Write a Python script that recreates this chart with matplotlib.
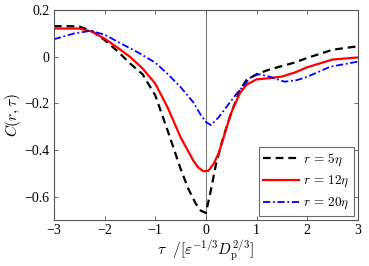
import numpy as np
import matplotlib
matplotlib.use("Agg")
import matplotlib.pyplot as plt

plt.rcParams["font.family"] = ["Liberation Serif", "DejaVu Serif"]
plt.rcParams["mathtext.fontset"] = "cm"

# r = 5 eta (black dashed)
tau_5 = [-3, -2.75, -2.5, -2.25, -2, -1.75, -1.5, -1.25, -1, -0.75, -0.5, -0.35,
         -0.2, -0.1, 0, 0.1, 0.2, 0.35, 0.5, 0.67, 0.8, 1.0, 1.25, 1.5, 1.75,
         2, 2.5, 3]
c_5 = [0.131, 0.131, 0.13, 0.11, 0.072, 0.025, -0.028, -0.075, -0.165, -0.32,
       -0.48, -0.565, -0.63, -0.66, -0.67, -0.57, -0.46, -0.34, -0.24, -0.145,
       -0.1, -0.075, -0.055, -0.04, -0.025, -0.005, 0.03, 0.045]

# r = 12 eta (red solid)
tau_12 = [-3, -2.5, -2.25, -2, -1.75, -1.5, -1.25, -1, -0.75, -0.5, -0.25, -0.15,
          -0.05, 0.05, 0.15, 0.25, 0.4, 0.5, 0.67, 0.8, 1.0, 1.25, 1.5, 1.75, 2,
          2.5, 3]
c_12 = [0.121, 0.121, 0.108, 0.078, 0.04, 0.0, -0.05, -0.115, -0.22, -0.345,
        -0.445, -0.475, -0.491, -0.489, -0.46, -0.415, -0.31, -0.24, -0.157,
        -0.12, -0.097, -0.092, -0.085, -0.068, -0.045, -0.012, -0.003]

# r = 20 eta (blue dash-dot)
tau_20 = [-3, -2.6, -2.28, -2, -1.68, -1.36, -1, -0.75, -0.5, -0.25, -0.1, 0,
          0.1, 0.25, 0.41, 0.6, 0.8, 0.9, 1.05, 1.25, 1.55, 1.8, 2, 2.45, 3]
c_20 = [0.075, 0.1, 0.111, 0.095, 0.057, 0.021, -0.025, -0.075, -0.13, -0.195,
        -0.25, -0.28, -0.293, -0.26, -0.214, -0.16, -0.11, -0.085, -0.075,
        -0.085, -0.107, -0.1, -0.086, -0.043, -0.021]

xticks = [-3, -2, -1, 0, 1, 2, 3]
yticks = [-0.6, -0.4, -0.2, 0, 0.2]
xticklabels = ["\u22123", "\u22122", "\u22121", "0", "1", "2", "3"]
yticklabels = ["\u22120.6", "\u22120.4", "\u22120.2", "0", "0.2"]

fig = plt.figure(figsize=(3.69, 2.66), dpi=100)
ax = fig.add_axes([0.146, 0.173, 0.824, 0.789])

ax.axvline(0, color="#808080", lw=0.8, zorder=1)
ax.plot(tau_5, c_5, color="black", lw=1.6, ls=(0, (3.5, 2.2)),
        label=r"$r\,=\,5\eta$")
ax.plot(tau_12, c_12, color="red", lw=1.6, label=r"$r\,=\,12\eta$")
ax.plot(tau_20, c_20, color="blue", lw=1.3, ls=(0, (4, 1.5, 1, 1.5)),
        label=r"$r\,=\,20\eta$")

ax.set_xlim(-3, 3)
ax.set_ylim(-0.7, 0.2)
ax.set_xticks(xticks)
ax.set_yticks(yticks)
ax.set_xticklabels(xticklabels)
ax.set_yticklabels(yticklabels)
ax.tick_params(direction="in", top=True, right=True, length=3, width=0.6,
               color="#555555", labelsize=10, pad=3)
for s in ax.spines.values():
    s.set_color("#555555")
    s.set_linewidth(0.8)

ax.set_xlabel(r"$\tau\ \ /[\varepsilon^{-1/3}D_{\mathrm{p}}^{2/3}]$",
              fontsize=11, labelpad=1)
ax.set_ylabel(r"$C(r,\tau)$", fontsize=11, labelpad=1)

leg = ax.legend(loc="lower right", fontsize=9.5, frameon=True, fancybox=False,
                handlelength=2.7, borderaxespad=0.3, labelspacing=0.5,
                handletextpad=0.3, borderpad=0.35)
leg.get_frame().set_edgecolor("#444444")
leg.get_frame().set_linewidth(0.8)

fig.savefig("out.png", dpi=100)
